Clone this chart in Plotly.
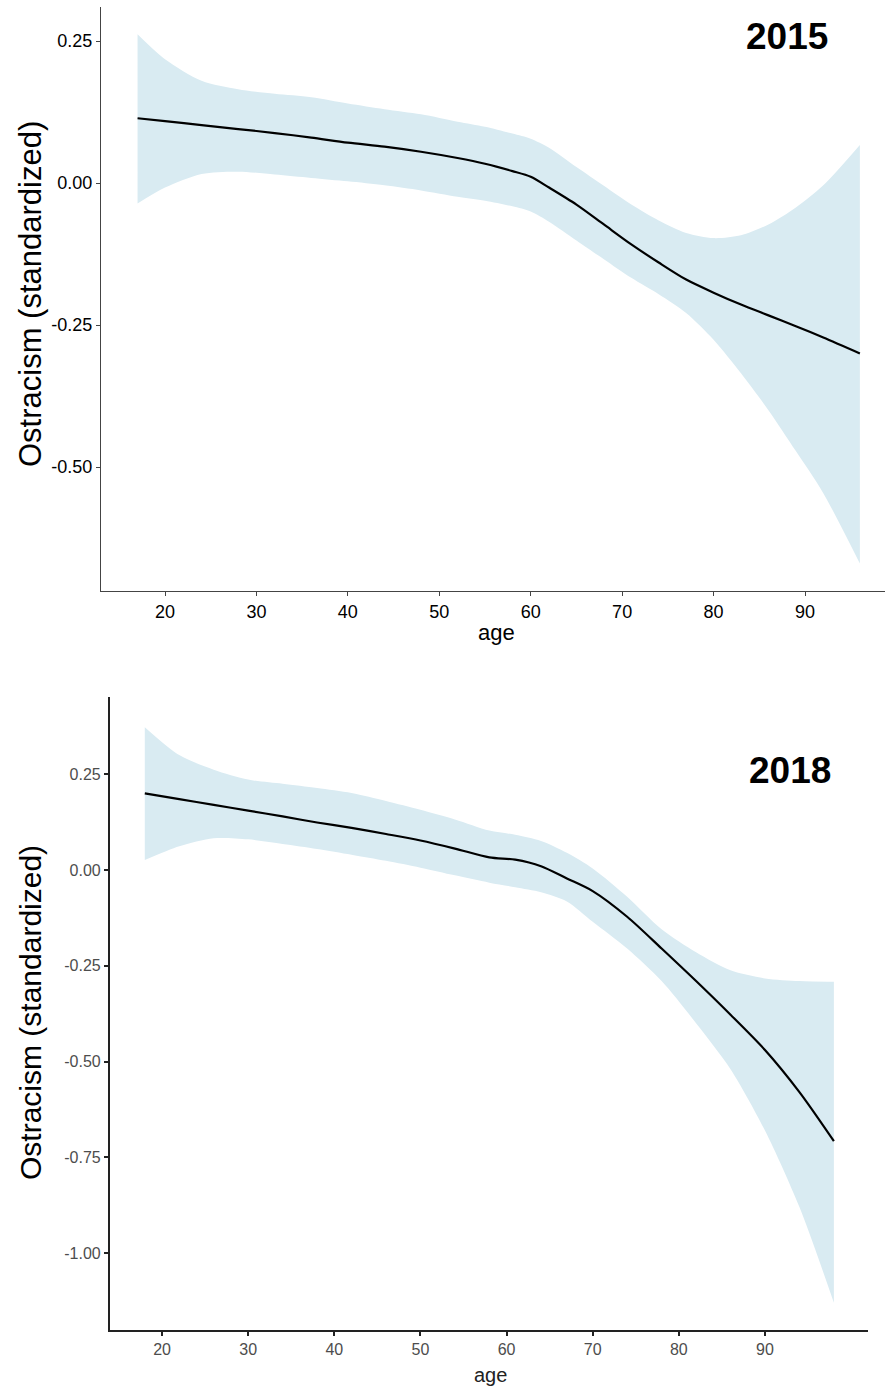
import plotly.graph_objects as go

W, H = 885, 1390

# ---------------- data: 2015 panel ----------------
age_2015 = [17, 20, 24, 28, 32, 36, 40, 44, 48, 52, 55, 58, 60, 62, 65, 68, 71, 74, 77, 80, 83, 86, 89, 92, 96]
fit_2015 = [0.114, 0.109, 0.102, 0.095, 0.088, 0.080, 0.071, 0.064, 0.055, 0.044, 0.034, 0.021, 0.011,
            -0.008, -0.038, -0.073, -0.108, -0.140, -0.170, -0.193, -0.214, -0.233, -0.252, -0.272, -0.300]
upper_2015 = [0.262, 0.218, 0.180, 0.165, 0.157, 0.151, 0.140, 0.130, 0.121, 0.108, 0.099, 0.087, 0.078,
              0.062, 0.028, -0.005, -0.038, -0.066, -0.088, -0.097, -0.092, -0.073, -0.043, -0.004, 0.067]
lower_2015 = [-0.036, -0.008, 0.016, 0.020, 0.015, 0.009, 0.003, -0.004, -0.013, -0.024, -0.031, -0.041, -0.050,
              -0.068, -0.101, -0.134, -0.167, -0.196, -0.229, -0.276, -0.335, -0.400, -0.472, -0.546, -0.670]

# ---------------- data: 2018 panel ----------------
age_2018 = [18, 22, 26, 30, 34, 38, 42, 46, 50, 54, 58, 61, 64, 67, 70, 74, 78, 82, 86, 90, 94, 98]
fit_2018 = [0.200, 0.185, 0.170, 0.155, 0.140, 0.124, 0.110, 0.094, 0.077, 0.056, 0.033, 0.027, 0.010,
            -0.022, -0.055, -0.122, -0.205, -0.290, -0.378, -0.470, -0.580, -0.708]
upper_2018 = [0.373, 0.300, 0.262, 0.236, 0.225, 0.214, 0.201, 0.180, 0.157, 0.132, 0.103, 0.092, 0.076,
              0.045, 0.004, -0.070, -0.155, -0.215, -0.262, -0.283, -0.290, -0.292]
lower_2018 = [0.026, 0.062, 0.083, 0.080, 0.068, 0.055, 0.040, 0.024, 0.006, -0.014, -0.033, -0.045, -0.058,
              -0.082, -0.135, -0.205, -0.290, -0.400, -0.520, -0.680, -0.880, -1.130]

x_ticks = [20, 30, 40, 50, 60, 70, 80, 90]
y_ticks_2015 = [0.25, 0.0, -0.25, -0.5]
y_ticktext_2015 = ["0.25", "0.00", "-0.25", "-0.50"]
y_ticks_2018 = [0.25, 0.0, -0.25, -0.5, -0.75, -1.0]
y_ticktext_2018 = ["0.25", "0.00", "-0.25", "-0.50", "-0.75", "-1.00"]

BAND = "rgb(217,235,242)"
FONT = "Liberation Sans, Arial, sans-serif"

fig = go.Figure()

def add_panel(ages, fit, up, lo, xa, ya):
    fig.add_trace(go.Scatter(
        x=ages, y=lo, mode="lines", line=dict(width=0, shape="spline", smoothing=0.8),
        hoverinfo="skip", showlegend=False, xaxis=xa, yaxis=ya))
    fig.add_trace(go.Scatter(
        x=ages, y=up, mode="lines", fill="tonexty", fillcolor=BAND,
        line=dict(width=0, shape="spline", smoothing=0.8),
        hoverinfo="skip", showlegend=False, xaxis=xa, yaxis=ya))
    fig.add_trace(go.Scatter(
        x=ages, y=fit, mode="lines", line=dict(color="black", width=2.2, shape="spline", smoothing=0.8),
        showlegend=False, xaxis=xa, yaxis=ya))

add_panel(age_2015, fit_2015, upper_2015, lower_2015, "x", "y")
add_panel(age_2018, fit_2018, upper_2018, lower_2018, "x2", "y2")

def fx(px):
    return px / W

def fy(py):
    return 1 - py / H

axis_common = dict(showgrid=False, zeroline=False, showline=True, ticks="outside", mirror=False)

fig.update_layout(
    width=W, height=H, autosize=False,
    margin=dict(l=0, r=0, t=0, b=0),
    paper_bgcolor="white", plot_bgcolor="white",
    xaxis=dict(**axis_common, domain=[fx(101), fx(885)], range=[13.0, 98.75], anchor="y",
               tickvals=x_ticks, linecolor="#444", linewidth=1.3, tickcolor="#444", ticklen=4,
               tickfont=dict(family=FONT, size=18, color="black")),
    yaxis=dict(**axis_common, domain=[fy(591), fy(7)], range=[-0.7183, 0.3099], anchor="x",
               tickvals=y_ticks_2015, ticktext=y_ticktext_2015, linecolor="#444", linewidth=1.3,
               tickcolor="#444", ticklen=4, tickfont=dict(family=FONT, size=18, color="black")),
    xaxis2=dict(**axis_common, domain=[fx(110), fx(868)], range=[13.96, 101.96], anchor="y2",
                tickvals=x_ticks, linecolor="#222", linewidth=2.2, tickcolor="#222", ticklen=4,
                tickwidth=1.5, tickfont=dict(family=FONT, size=16, color="#4d4d4d")),
    yaxis2=dict(**axis_common, domain=[fy(1330), fy(697)], range=[-1.201, 0.4517], anchor="x2",
                tickvals=y_ticks_2018, ticktext=y_ticktext_2018, linecolor="#222", linewidth=2.2,
                tickcolor="#222", ticklen=4, tickwidth=1.5,
                tickfont=dict(family=FONT, size=16, color="#4d4d4d")),
)

annotations = [
    dict(text="2015", x=fx(787), y=fy(36), font=dict(family=FONT, size=37, color="black"),
         bold=True),
    dict(text="2018", x=fx(790), y=fy(771), font=dict(family=FONT, size=37, color="black"),
         bold=True),
    dict(text="age", x=fx(497), y=fy(633), font=dict(family=FONT, size=22, color="black")),
    dict(text="age", x=fx(490), y=fy(1375), font=dict(family=FONT, size=20, color="#222")),
    dict(text="Ostracism (standardized)", x=fx(30), y=fy(294), textangle=-90,
         font=dict(family=FONT, size=31, color="black")),
    dict(text="Ostracism (standardized)", x=fx(30), y=fy(1013), textangle=-90,
         font=dict(family=FONT, size=30, color="black")),
]
for a in annotations:
    bold = a.pop("bold", False)
    if bold:
        a["text"] = "<b>" + a["text"] + "</b>"
    fig.add_annotation(xref="paper", yref="paper", showarrow=False, xanchor="center",
                       yanchor="middle", **a)

fig.write_html("out.html",
               config={"displayModeBar": False},
               post_script="document.body.style.margin='0';document.body.style.padding='0';"
                           "document.body.style.overflow='hidden';")
